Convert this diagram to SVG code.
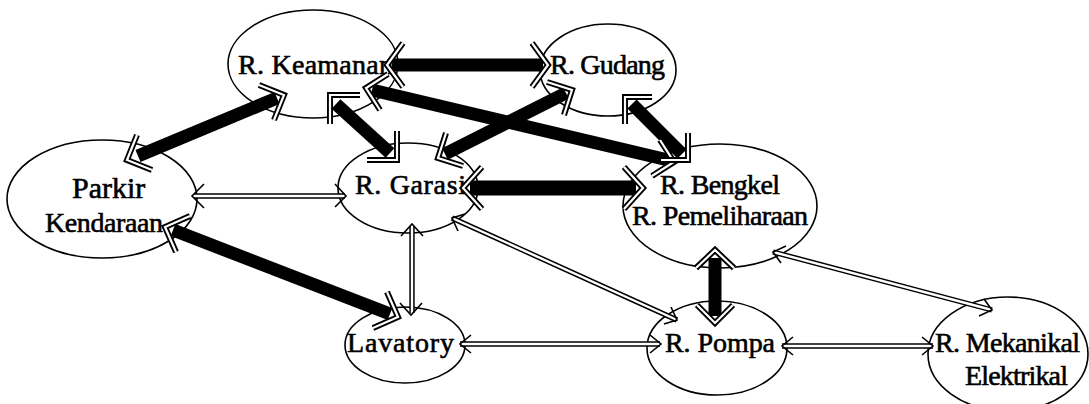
<svg xmlns="http://www.w3.org/2000/svg" width="1089" height="404" viewBox="0 0 1089 404">
  <style>
    .node ellipse { fill: #ffffff; stroke: #000000; stroke-width: 1.6; }
    .node text { font-family: "Liberation Serif", "Times New Roman", serif; font-size: 28px; fill: #000000; stroke: #000000; stroke-width: 0.6; }
    .bar { stroke: #000000; stroke-width: 13; fill: none; stroke-linecap: butt; }
    .head-o { stroke: #000000; stroke-width: 6; fill: none; stroke-linejoin: miter; stroke-linecap: butt; }
    .head-i { stroke: #ffffff; stroke-width: 2.2; fill: none; stroke-linejoin: miter; stroke-linecap: butt; }
    .pipe-o { stroke: #000000; stroke-width: 5.4; fill: none; }
    .pipe-i { stroke: #ffffff; stroke-width: 2.4; fill: none; }
    .tip { stroke: #000000; stroke-width: 1.6; fill: none; stroke-linejoin: miter; }
  </style>
  <defs>
    <!-- hollow heads for the heavy bars (drawn twice: black outline, white core) -->
    <path id="h1" d="M403,43 L387,65 L403,87 M532,43 L548,65 L532,87"/>
    <path id="h2" d="M152,170 L127,160 L137,135 M259,85 L284,95 L274,120"/>
    <path id="h3" d="M360,95 L330,95 L330,124 M367,160 L397,160 L397,131"/>
    <path id="h4" d="M380,110 L366,88 L388,74 M660,140 L674,162 L652,176"/>
    <path id="h5" d="M547,82 L572,90 L564,115 M463,166 L438,158 L446,133"/>
    <path id="h6" d="M652,97 L625,97 L625,124 M661,160 L688,160 L688,133"/>
    <path id="h7" d="M482,167 L463,188 L482,209 M624,167 L643,188 L624,209"/>
    <path id="h8" d="M176,252 L165,227 L190,216 M387,292 L398,317 L373,328"/>
    <path id="h9" d="M696,268 L715,250 L734,268 M697,305 L715,323 L733,305"/>
    <!-- double-line pipes -->
    <path id="p1" d="M194,196 L345,196"/>
    <path id="p2" d="M412,226 L412,313"/>
    <path id="p3" d="M452,218 L677,320"/>
    <path id="p4" d="M773,252 L992,310"/>
    <path id="p5" d="M460,344 L660,344"/>
    <path id="p6" d="M782,346 L933,346"/>
  </defs>
  <rect width="1089" height="404" fill="#ffffff"/>

  <!-- rooms -->
  <g id="keamanan" class="node">
    <ellipse cx="313" cy="64" rx="85" ry="54"/>
    <text x="238" y="74" textLength="155" lengthAdjust="spacing">R. Keamanan</text>
  </g>
  <g id="gudang" class="node">
    <ellipse cx="608" cy="70" rx="68" ry="46"/>
    <text x="550" y="74" textLength="115" lengthAdjust="spacing">R. Gudang</text>
  </g>
  <g id="parkir" class="node">
    <ellipse cx="102" cy="199" rx="95" ry="59"/>
    <text x="72" y="198" style="font-size:30px">Parkir</text>
    <text x="45" y="232" textLength="118" lengthAdjust="spacing">Kendaraan</text>
  </g>
  <g id="garasi" class="node">
    <ellipse cx="408" cy="188" rx="70" ry="45"/>
    <text x="355" y="194" textLength="111" lengthAdjust="spacing">R. Garasi</text>
  </g>
  <g id="bengkel" class="node">
    <ellipse cx="720" cy="206" rx="97" ry="62"/>
    <text x="660" y="194" textLength="120" lengthAdjust="spacing">R. Bengkel</text>
    <text x="632" y="225" textLength="176" lengthAdjust="spacing">R. Pemeliharaan</text>
  </g>
  <g id="lavatory" class="node">
    <ellipse cx="405" cy="345" rx="60" ry="38"/>
    <text x="347" y="352" textLength="107" lengthAdjust="spacing">Lavatory</text>
  </g>
  <g id="pompa" class="node">
    <ellipse cx="717" cy="348" rx="70" ry="47"/>
    <text x="665" y="352" textLength="110" lengthAdjust="spacing">R. Pompa</text>
  </g>
  <g id="mekanikal" class="node">
    <ellipse cx="1008" cy="354" rx="80" ry="57"/>
    <text x="935" y="352" textLength="145" lengthAdjust="spacing">R. Mekanikal</text>
    <text x="965" y="385" textLength="103" lengthAdjust="spacing">Elektrikal</text>
  </g>

  <g id="connectors">
    <!-- close relations: heavy bars with hollow double-line heads -->
    <g id="strong-bars">
      <line class="bar" x1="392" y1="65" x2="543" y2="65"/>
      <line class="bar" x1="138" y1="156" x2="277" y2="98"/>
      <line class="bar" x1="336" y1="104" x2="390" y2="153"/>
      <line class="bar" x1="372" y1="90" x2="668" y2="160"/>
      <line class="bar" x1="566" y1="93" x2="445" y2="154"/>
      <line class="bar" x1="632" y1="104" x2="682" y2="154"/>
      <line class="bar" x1="470" y1="188" x2="636" y2="188" style="stroke-width:15"/>
      <line class="bar" x1="173" y1="230" x2="390" y2="314"/>
      <line class="bar" x1="715" y1="258" x2="715" y2="316"/>
    </g>
    <g id="strong-heads">
      <use href="#h1" class="head-o"/><use href="#h1" class="head-i"/>
      <use href="#h2" class="head-o"/><use href="#h2" class="head-i"/>
      <use href="#h3" class="head-o"/><use href="#h3" class="head-i"/>
      <use href="#h4" class="head-o"/><use href="#h4" class="head-i"/>
      <use href="#h5" class="head-o"/><use href="#h5" class="head-i"/>
      <use href="#h6" class="head-o"/><use href="#h6" class="head-i"/>
      <use href="#h7" class="head-o"/><use href="#h7" class="head-i"/>
      <use href="#h8" class="head-o"/><use href="#h8" class="head-i"/>
      <use href="#h9" class="head-o"/><use href="#h9" class="head-i"/>
    </g>

    <!-- ordinary relations: double-line pipes with thin heads -->
    <g id="weak-links">
      <use href="#p1" class="pipe-o"/><use href="#p1" class="pipe-i"/>
      <use href="#p2" class="pipe-o"/><use href="#p2" class="pipe-i"/>
      <use href="#p3" class="pipe-o"/><use href="#p3" class="pipe-i"/>
      <use href="#p4" class="pipe-o"/><use href="#p4" class="pipe-i"/>
      <use href="#p5" class="pipe-o"/><use href="#p5" class="pipe-i"/>
      <use href="#p6" class="pipe-o"/><use href="#p6" class="pipe-i"/>
      <path class="tip" d="M204,184 L192,196 L204,208 M335,184 L346,196 L335,207"/>
      <path class="tip" d="M401,236 L412,224 L423,236 M400,303 L411,315 L422,303"/>
      <path class="tip" d="M458,231 L452,218 L465,214 M671,307 L677,320 L664,324"/>
      <path class="tip" d="M781,263 L773,252 L786,246 M984,299 L992,310 L979,316"/>
      <path class="tip" d="M471,335 L460,344 L471,353 M650,335 L661,344 L650,353"/>
      <path class="tip" d="M793,337 L782,346 L793,355 M922,337 L933,346 L922,355"/>
    </g>
  </g>
</svg>
